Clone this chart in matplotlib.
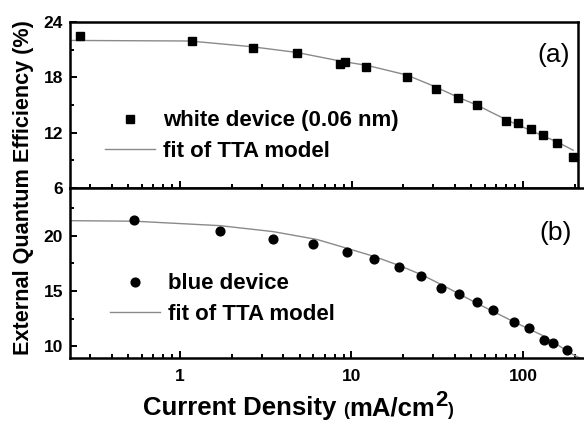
import matplotlib
matplotlib.use("Agg")
import matplotlib.pyplot as plt
from matplotlib.ticker import FixedLocator, LogLocator, NullFormatter, FuncFormatter

plt.rcParams["font.family"] = ["Liberation Sans", "DejaVu Sans"]

# (a) white device, 0.06 nm
white_j = [0.261, 1.17, 2.68, 4.79, 8.57, 9.17, 12.2, 21.2, 30.9, 41.8, 53.7,
           79.6, 93.1, 112, 131, 158, 196]
white_eqe = [22.5, 21.97, 21.2, 20.6, 19.5, 19.65, 19.1, 18.0, 16.7, 15.8, 15.0,
             13.3, 13.1, 12.4, 11.7, 10.9, 9.4]
white_fit_j = [0.228, 1.14, 2.62, 4.79, 8.97, 12.3, 21.0, 30.6, 41.1, 53.7,
               80.6, 115, 158, 196]
white_fit_eqe = [22.0, 21.94, 21.32, 20.7, 19.7, 19.3, 18.25, 17.0, 15.9, 15.0,
                 13.37, 12.1, 11.0, 10.1]

# (b) blue device
blue_j = [0.542, 1.71, 3.47, 5.99, 9.38, 13.6, 19.0, 25.5, 33.4, 42.6, 53.7,
          66.6, 88.9, 109, 133, 150, 180]
blue_eqe = [21.41, 20.42, 19.73, 19.25, 18.5, 17.9, 17.18, 16.37, 15.23, 14.69,
            14.03, 13.31, 12.16, 11.68, 10.54, 10.3, 9.64]
blue_fit_j = [0.228, 0.546, 1.71, 3.5, 6.3, 9.38, 13.7, 19.2, 25.7, 33.6, 53.7,
              87.6, 131, 196, 240]
blue_fit_eqe = [21.35, 21.3, 20.9, 20.36, 19.65, 18.86, 18.1, 17.27, 16.46, 15.56,
                13.9, 12.25, 10.96, 9.25, 8.6]

W, H = 584, 425
fig = plt.figure(figsize=(W / 100, H / 100), dpi=100)
fig.patch.set_facecolor("white")


def px_axes(x0, x1, y0, y1):
    return fig.add_axes([x0 / W, 1 - y1 / H, (x1 - x0) / W, (y1 - y0) / H])


ax_a = px_axes(70, 578, 22, 188)
ax_b = px_axes(70, 600, 188, 358)

# same decade width in both panels: 1 -> x=180 px, one decade = 171.5 px
def x_at(px):
    return 10 ** ((px - 180) / 171.5)

ax_a.set_xlim(x_at(70), x_at(578))
ax_b.set_xlim(x_at(70), x_at(600))
ax_a.set_ylim(6, 24)
ax_b.set_ylim(8.95, 24.3)

line_kw = dict(color="#8a8a8a", lw=1.0)
ax_a.plot(white_fit_j, white_fit_eqe, label="fit of TTA model", **line_kw)
ax_a.plot(white_j, white_eqe, ls="none", marker="s", ms=5.8, color="black",
          label="white device (0.06 nm)")
ax_b.plot(blue_fit_j, blue_fit_eqe, label="fit of TTA model", **line_kw)
ax_b.plot(blue_j, blue_eqe, ls="none", marker="o", ms=6.3, color="black",
          label="blue device")

fmt = FuncFormatter(lambda v, _: f"{v:g}")
for ax in (ax_a, ax_b):
    ax.set_xscale("log")
    ax.xaxis.set_major_locator(LogLocator(base=10))
    ax.xaxis.set_minor_locator(LogLocator(base=10, subs=range(2, 10)))
    ax.xaxis.set_major_formatter(fmt)
    ax.xaxis.set_minor_formatter(NullFormatter())
    ax.tick_params(which="both", direction="in", top=False, right=False,
                   width=1.4, labelsize=12.5)
    ax.tick_params(which="major", length=5)
    ax.tick_params(which="minor", length=3)
    for s in ax.spines.values():
        s.set_linewidth(1.8)

ax_a.yaxis.set_major_locator(FixedLocator([6, 12, 18, 24]))
ax_a.yaxis.set_minor_locator(FixedLocator([9, 15, 21]))
ax_b.yaxis.set_major_locator(FixedLocator([10, 15, 20]))
ax_b.yaxis.set_minor_locator(FixedLocator([12.5, 17.5, 22.5]))
ax_a.tick_params(axis="x", pad=10)
ax_b.tick_params(axis="x", pad=8)
ax_a.tick_params(axis="y", pad=5)
ax_b.tick_params(axis="y", pad=5)
for ax in (ax_a, ax_b):
    for lab in ax.get_xticklabels() + ax.get_yticklabels():
        lab.set_fontweight("bold")

leg_kw = dict(frameon=False, numpoints=1, handlelength=2.25, handletextpad=0.36,
              labelspacing=0.42, borderpad=0, borderaxespad=0, loc="center left",
              prop={"weight": "bold", "size": 16})
h, l = ax_a.get_legend_handles_labels()
ax_a.legend(h[::-1], l[::-1], bbox_to_anchor=(0.069, 0.313), **leg_kw)
h, l = ax_b.get_legend_handles_labels()
ax_b.legend(h[::-1], l[::-1], bbox_to_anchor=(0.0755, 0.347), **leg_kw)

ax_a.text(0.984, 0.80, "(a)", transform=ax_a.transAxes, ha="right", va="center",
          fontsize=19)
ax_b.text(0.947, 0.735, "(b)", transform=ax_b.transAxes, ha="right", va="center",
          fontsize=19)

fig.text(24 / W, 1 - 188 / H, "External Quantum Efficiency (%)", rotation=90,
         ha="center", va="center", fontsize=15.6, fontweight="bold")

# x label built from pieces: smaller parentheses and a large raised "2"
renderer = fig.canvas.get_renderer()
x_px, base_px = 143, 415
pieces = [("Current Density ", 18.5, 0), ("(", 13, 0), ("mA/cm", 18.5, 0),
          ("2", 16, 9), (")", 13, 0)]
for txt, size, rise in pieces:
    t = fig.text(x_px / W, 1 - (base_px - rise) / H, txt, fontsize=size,
                 fontweight="bold", ha="left", va="baseline")
    x_px += t.get_window_extent(renderer).width

fig.savefig("out.png", dpi=100)
